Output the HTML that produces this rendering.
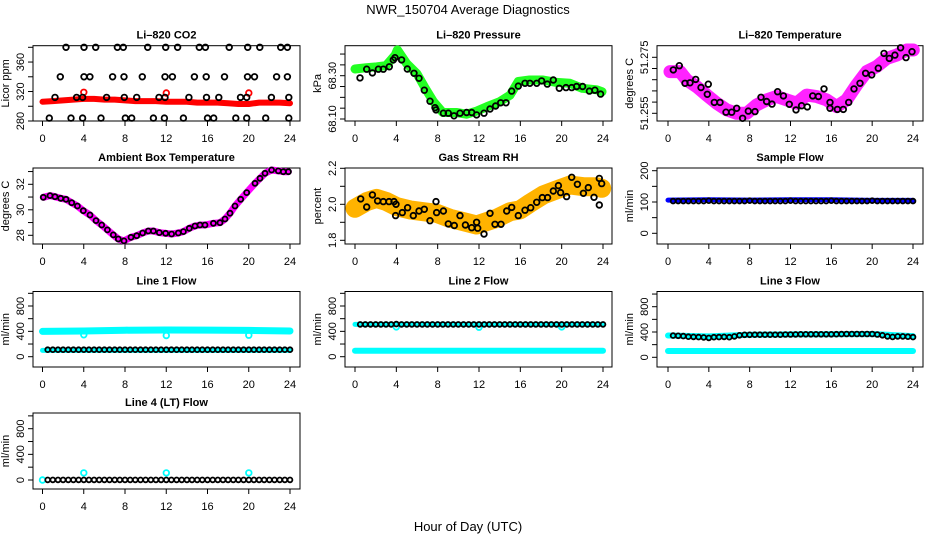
<!DOCTYPE html>
<html><head><meta charset="utf-8"><title>NWR_150704 Average Diagnostics</title>
<style>
html,body{margin:0;padding:0;background:#fff;}
svg{display:block;font-family:"Liberation Sans",Arial,sans-serif;}
</style></head>
<body>
<svg id="chart" width="936" height="540" viewBox="0 0 936 540" xmlns="http://www.w3.org/2000/svg">
<text x="468" y="14" text-anchor="middle" font-size="13">NWR_150704  Average Diagnostics</text>
<text x="468" y="531" text-anchor="middle" font-size="13">Hour of Day (UTC)</text>
</svg>
<script>
// ---------------- data ----------------
const xTicks = [0,4,8,12,16,20,24];

const co2TopHours = [2.28,4.02,5.16,7.26,7.84,10.2,11.95,13.1,15.2,15.8,18.1,19.9,21.07,23.1,23.75];
const co2Row2Hours = [1.73,4.02,4.6,6.8,7.9,9.68,11.88,12.6,14.73,15.87,17.65,19.88,20.56,22.7,23.75];
const co2Row3Hours = [1.21,3.31,3.89,6.22,7.93,9.13,11.3,11.88,14.2,15.9,17.1,19.2,19.8,22.2,23.88];
const co2Row4Hours = [0.66,2.76,3.89,5.67,8.03,8.65,10.75,11.82,13.66,16.0,16.6,18.74,19.8,21.64,23.88];
const co2LevelValues = [380,340,312,284];
const co2BandHours = [0,1,2,3,4,5,6,7,8,9,10,11,12,13,14,15,16,17,18,19,20,21,22,23,24];
const co2BandValues = [306,307,308,309,310,310,309,309,308,307,307,307,306,306,306,305,305,305,304,303,303,305,305,305,304];
const co2OutHours = [4,12,20];
const co2OutValues = [319,318,318];

const presBandHours = [0,1.1,2.1,3,3.9,4.1,5,6,6.8,7.6,8.5,9.8,10.8,11.8,12.75,14,15,15.8,16.9,18.2,19.5,20.8,22,23.4,23.9];
const presBandValues = [68.331,68.337,68.341,68.346,68.396,68.419,68.356,68.309,68.242,68.180,68.130,68.130,68.122,68.137,68.157,68.180,68.210,68.273,68.280,68.280,68.269,68.265,68.242,68.235,68.226];
const presHours = [0.48,1.13,1.68,2.26,2.74,3.32,3.71,3.87,4.51,5.06,5.71,6.19,6.71,7.26,7.74,7.84,8.55,9.03,9.58,10.16,10.8,11.29,11.77,12.48,13.06,13.61,14.1,14.61,15.16,15.8,16.45,16.93,17.58,18.06,18.61,19.19,19.77,20.42,20.97,21.45,22.03,22.68,23.22,23.77];
const presValues = [68.290,68.330,68.313,68.330,68.330,68.341,68.373,68.383,68.373,68.331,68.311,68.288,68.233,68.182,68.152,68.142,68.127,68.127,68.115,68.127,68.130,68.130,68.119,68.127,68.146,68.160,68.175,68.175,68.229,68.252,68.265,68.265,68.265,68.276,68.261,68.280,68.242,68.245,68.245,68.250,68.250,68.229,68.233,68.215];

const tempBandHours = [0.2,1.18,1.83,2.81,3.79,4.77,5.75,6.73,7.71,8.69,9.66,10.64,11.62,12.6,13.58,14.56,15.54,16.52,17.5,18.48,19.46,20.44,21.42,22.4,23.38,24.03];
const tempBandValues = [51.2699,51.2699,51.2669,51.2645,51.2615,51.2586,51.2562,51.2550,51.2550,51.2580,51.2598,51.2610,51.2598,51.2586,51.2615,51.2610,51.2598,51.2574,51.2598,51.2651,51.2699,51.2717,51.2746,51.2758,51.2776,51.2776];
const tempHours = [0.52,1.11,1.67,2.16,2.71,3.23,3.85,3.95,4.54,5.09,5.68,6.24,6.73,7.31,7.87,8.52,9.11,9.66,10.19,10.74,11.30,11.88,12.54,13.09,13.65,14.17,14.73,15.28,15.87,15.87,16.59,17.17,17.70,18.22,18.81,19.36,19.95,20.60,21.16,21.68,22.23,22.79,23.31,23.90];
const tempValues = [51.2705,51.2720,51.2657,51.2659,51.2671,51.2642,51.2618,51.2654,51.2589,51.2589,51.2554,51.2554,51.2568,51.2532,51.2558,51.2556,51.2607,51.2592,51.2583,51.2627,51.2612,51.2582,51.2562,51.2577,51.2573,51.2612,51.2610,51.2637,51.2589,51.2568,51.2564,51.2564,51.2589,51.2637,51.2657,51.2693,51.2687,51.2711,51.2764,51.2746,51.2758,51.2784,51.2749,51.2770];

const ambHours = [0.08,0.73,1.21,1.76,2.28,2.83,3.38,3.96,4.61,5.19,5.74,6.29,6.87,7.35,7.9,8.58,9.13,9.71,10.26,10.75,11.33,11.94,12.52,13.17,13.66,14.24,14.79,15.27,15.76,16.57,17.21,17.7,18.18,18.67,19.22,19.8,20.61,21.09,21.58,22.22,22.87,23.35,23.84];
const ambValues = [30.98,31.11,31.03,30.90,30.82,30.56,30.30,29.93,29.59,29.15,28.81,28.42,28.03,27.71,27.56,27.84,27.97,28.18,28.34,28.34,28.21,28.16,28.10,28.18,28.29,28.55,28.73,28.81,28.81,28.94,28.99,29.28,29.73,30.30,30.82,31.35,32.08,32.47,32.86,33.12,33.05,32.99,32.99];

const rhBandHours = [0,1.13,2.09,3.06,4.03,5.32,6.61,7.9,9.19,10.48,11.77,12.74,13.71,15,15.97,16.94,18.22,19.51,20.81,22.1,23.39,23.87];
const rhBandValues = [1.978,2.015,2.033,2.015,1.987,1.969,1.959,1.950,1.922,1.904,1.885,1.904,1.922,1.959,1.969,2.006,2.052,2.080,2.107,2.098,2.098,2.089];
const rhHours = [0.55,1.13,1.68,2.19,2.74,3.29,3.77,3.97,3.93,4.58,5.09,5.64,6.19,6.71,7.26,7.84,7.9,8.55,9.03,9.61,10.16,10.68,11.29,11.77,11.87,12.48,13.06,13.55,14.13,14.68,15.16,15.8,16.45,17.0,17.58,18.13,18.64,19.19,19.68,19.9,20.48,20.97,21.52,22.1,22.58,23.13,23.64,23.64,23.87];
const rhValues = [2.030,1.985,2.052,2.019,2.015,2.015,2.015,2.000,1.937,1.954,1.981,1.937,1.963,1.972,1.909,2.015,1.954,1.963,1.891,1.882,1.937,1.885,1.870,1.900,1.867,1.835,1.950,1.889,1.889,1.963,1.983,1.937,1.967,1.981,2.011,2.037,2.037,2.074,2.104,2.065,2.043,2.150,2.111,2.061,2.093,2.039,2.144,1.996,2.115];

const flowHours = [0.5,1,1.5,2,2.5,3,3.5,4,4.5,5,5.5,6,6.5,7,7.5,8,8.5,9,9.5,10,10.5,11,11.5,12,12.5,13,13.5,14,14.5,15,15.5,16,16.5,17,17.5,18,18.5,19,19.5,20,20.5,21,21.5,22,22.5,23,23.5,24];
const bandHours = [0,4,8,12,16,20,24];
const sampleBlack = [103,103,103,103,103,103,103,104,103,103,103,103,103,103,103,104,103,103,103,103,103,103,103,104,103,103,103,103,103,103,103,104,103,103,103,103,103,103,103,104,103,103,103,103,103,103,103,103];
const sampleBand = [106,107,106,107,107,105,105];
const line1Black = [110,110,110,110,110,110,110,110,110,110,110,110,110,110,110,110,110,110,110,110,110,110,110,110,110,110,110,110,110,110,110,110,110,110,110,110,110,110,110,110,110,110,110,110,110,110,110,110];
const line1HighBand = [400,405,418,422,420,415,405];
const line1LowBand = [100,100,100,100,100,100,100];
const line1OutValues = [345,335,340];
const line2Black = [510,510,510,510,510,510,510,515,510,510,510,510,510,510,510,510,510,510,510,510,510,510,510,510,510,510,510,510,510,510,510,510,510,510,510,510,510,510,510,510,510,510,510,510,510,510,510,510];
const line2HighBand = [510,510,510,510,510,510,510];
const line2LowBand = [95,95,95,95,95,95,95];
const line2OutValues = [470,465,470];
const line3Black = [343,340,335,325,322,320,315,306,318,320,322,318,330,348,355,356,357,357,358,358,358,358,360,361,362,363,364,364,364,364,364,364,366,367,368,368,369,369,369,369,360,348,330,322,330,330,325,320];
const line3HighBand = [345,330,355,362,366,368,335];
const line3LowBand = [100,100,100,100,100,100,100];
const line4Black = [2,2,2,2,2,2,2,2,2,2,2,2,2,2,2,2,2,2,2,2,2,2,2,2,2,2,2,2,2,2,2,2,2,2,2,2,2,2,2,2,2,2,2,2,2,2,2,2];
const line4OutHours = [0,4,12,20];
const line4OutValues = [0,110,110,110];
const flowOutHours = [4,12,20];

// ---------------- layout ----------------
const NS = "http://www.w3.org/2000/svg";
const svg = document.getElementById('chart');
const colL = [33,345,657], colR = [300,612,923], colX0 = [42.5,355,668], colX24 = [290,603,913];
const rowT = [45.7,168,291.5,413], rowB = [121,244,367,489];

function mk(tag, attrs, parent){
  const e = document.createElementNS(NS, tag);
  for (const k in attrs) e.setAttribute(k, attrs[k]);
  (parent||svg).appendChild(e);
  return e;
}

function panel(name, title, ylab, col, row, a1, a2, ticks, labels){
  const g = mk('g', {});
  
  
  const L = colL[col], R = colR[col], T = rowT[row], B = rowB[row];
  const sx = h => colX0[col] + (colX24[col]-colX0[col]) * h / 24;
  const sy = v => a1[1] + (a2[1]-a1[1]) * (v - a1[0]) / (a2[0]-a1[0]);
  const t = mk('text', {x:(L+R)/2, y:T-7, 'text-anchor':'middle', 'font-size':11, 'font-weight':'bold'}, g);
  t.textContent = title;
  
  
  const box = mk('rect', {x:L, y:T, width:R-L, height:B-T, fill:'none', stroke:'#000', 'stroke-width':1}, g);
  
  
  const xa = mk('g', {}, g);
  
  
  mk('line', {x1:sx(0), x2:sx(24), y1:B, y2:B, stroke:'#000'}, xa);
  xTicks.forEach(h => {
    mk('line', {x1:sx(h), x2:sx(h), y1:B, y2:B+5, stroke:'#000'}, xa);
    const tl = mk('text', {x:sx(h), y:B+21, 'text-anchor':'middle', 'font-size':11}, xa);
    tl.textContent = h;
    
    
  });
  const ya = mk('g', {}, g);
  
  
  mk('line', {x1:L, x2:L, y1:sy(ticks[0]), y2:sy(ticks[ticks.length-1]), stroke:'#000'}, ya);
  ticks.forEach(v => mk('line', {x1:L-5, x2:L, y1:sy(v), y2:sy(v), stroke:'#000'}, ya));
  labels.forEach(v => {
    const y = sy(v.v);
    const tl = mk('text', {x:L-9, y:y, 'text-anchor':'middle', 'font-size':11, transform:`rotate(-90 ${L-9} ${y})`}, ya);
    tl.textContent = v.t;
    
    
  });
  const yt = mk('text', {x:L-24, y:(T+B)/2, 'text-anchor':'middle', 'font-size':11, transform:`rotate(-90 ${L-24} ${(T+B)/2})`}, g);
  yt.textContent = ylab;
  
  
  const plot = mk('g', {}, g);
  return {sx, sy, g: plot};
}

function band(p, hs, vs, color, w, name){
  const pts = hs.map((h,i) => p.sx(h).toFixed(1) + ',' + p.sy(vs[i]).toFixed(1)).join(' ');
  const e = mk('polyline', {points:pts, fill:'none', stroke:color, 'stroke-width':w, 'stroke-linejoin':'round', 'stroke-linecap':'round'}, p.g);
  
  
}
function circles(p, hs, vs, color, name, r){
  hs.forEach((h,i) => {
    const c = mk('circle', {cx:p.sx(h).toFixed(1), cy:p.sy(vs[i]).toFixed(1), r:r||2.8, fill:'none', stroke:color, 'stroke-width':1.8}, p.g);
    
    
  });
}
function flat(arr, v){ return arr.map(() => v); }

// CO2
let p = panel('co2', 'Li\u2013820 CO2', 'Licor ppm', 0, 0, [280,121], [380,47.3],
  [280,300,320,340,360,380], [{v:280,t:'280'},{v:320,t:'320'},{v:360,t:'360'}]);
band(p, co2BandHours, co2BandValues, '#ff0000', 6, 'co2-red-series');
circles(p, co2OutHours, co2OutValues, '#ff0000', 'co2-red-outlier');
circles(p, co2TopHours, flat(co2TopHours, co2LevelValues[0]), '#000', 'co2-black-point');
circles(p, co2Row2Hours, flat(co2Row2Hours, co2LevelValues[1]), '#000', 'co2-black-point');
circles(p, co2Row3Hours, flat(co2Row3Hours, co2LevelValues[2]), '#000', 'co2-black-point');
circles(p, co2Row4Hours, flat(co2Row4Hours, co2LevelValues[3]), '#000', 'co2-black-point');

// Pressure
p = panel('pressure', 'Li\u2013820 Pressure', 'kPa', 1, 0, [68.10,119], [68.30,75.7],
  [68.10,68.15,68.20,68.25,68.30,68.35,68.40], [{v:68.10,t:'68.10'},{v:68.30,t:'68.30'}]);
band(p, presBandHours, presBandValues, '#22ff22', 9, 'pressure-green-series');
circles(p, presHours, presValues, '#000', 'pressure-black-point');

// Temperature
p = panel('li820-temp', 'Li\u2013820 Temperature', 'degrees C', 2, 0, [51.255,113.3], [51.275,57.3],
  [51.255,51.259,51.263,51.267,51.271,51.275], [{v:51.255,t:'51.255'},{v:51.275,t:'51.275'}]);
band(p, tempBandHours, tempBandValues, '#ff22ff', 13, 'li820-temp-magenta-series');
circles(p, tempHours, tempValues, '#000', 'li820-temp-black-point');

// Ambient
p = panel('ambient', 'Ambient Box Temperature', 'degrees C', 0, 1, [28,235.3], [32,184.3],
  [28,29,30,31,32,33], [{v:28,t:'28'},{v:30,t:'30'},{v:32,t:'32'}]);
band(p, ambHours, ambValues, '#ff00ff', 7, 'ambient-magenta-series');
circles(p, ambHours, ambValues, '#000', 'ambient-black-point', 2.5);

// RH
p = panel('rh', 'Gas Stream RH', 'percent', 1, 1, [2.0,204.3], [2.2,168.3],
  [1.8,1.9,2.0,2.1,2.2], [{v:1.8,t:'1.8'},{v:2.0,t:'2.0'},{v:2.2,t:'2.2'}]);
band(p, rhBandHours, rhBandValues, '#ffb300', 19, 'rh-orange-series');
circles(p, rhHours, rhValues, '#000', 'rh-black-point');

// Sample flow
p = panel('sample-flow', 'Sample Flow', 'ml/min', 2, 1, [0,233.3], [200,170.7],
  [0,50,100,150,200], [{v:0,t:'0'},{v:100,t:'100'},{v:200,t:'200'}]);
band(p, bandHours, sampleBand, '#0000ff', 5, 'sample-flow-blue-series');
circles(p, flowHours, sampleBlack, '#000', 'sample-flow-black-point', 2.4);

const flowTicks = [0,200,400,600,800,1000];
const flowLabels = [{v:0,t:'0'},{v:400,t:'400'},{v:800,t:'800'}];
p = panel('line1-flow', 'Line 1 Flow', 'ml/min', 0, 2, [0,356.7], [800,306], flowTicks, flowLabels);
band(p, bandHours, line1HighBand, '#00ffff', 7, 'line1-cyan-high-series');
band(p, bandHours, line1LowBand, '#00ffff', 5, 'line1-cyan-low-series');
circles(p, flowOutHours, line1OutValues, '#00ffff', 'line1-cyan-outlier');
circles(p, flowHours, line1Black, '#000', 'line1-black-point', 2.4);

p = panel('line2-flow', 'Line 2 Flow', 'ml/min', 1, 2, [0,356.7], [800,306], flowTicks, flowLabels);
band(p, bandHours, line2LowBand, '#00ffff', 6, 'line2-cyan-low-series');
band(p, bandHours, line2HighBand, '#00ffff', 5, 'line2-cyan-high-series');
circles(p, flowOutHours, line2OutValues, '#00ffff', 'line2-cyan-outlier');
circles(p, flowHours, line2Black, '#000', 'line2-black-point', 2.4);

p = panel('line3-flow', 'Line 3 Flow', 'ml/min', 2, 2, [0,357.3], [800,306.7], flowTicks, flowLabels);
band(p, bandHours, line3LowBand, '#00ffff', 6, 'line3-cyan-low-series');
band(p, bandHours, line3HighBand, '#00ffff', 6, 'line3-cyan-high-series');
circles(p, flowHours, line3Black, '#000', 'line3-black-point', 2.4);

p = panel('line4-flow', 'Line 4 (LT) Flow', 'ml/min', 0, 3, [0,480], [800,428.7], flowTicks, flowLabels);
circles(p, line4OutHours, line4OutValues, '#00ffff', 'line4-cyan-point');
circles(p, flowHours, line4Black, '#000', 'line4-black-point', 2.4);
</script>
</body></html>
